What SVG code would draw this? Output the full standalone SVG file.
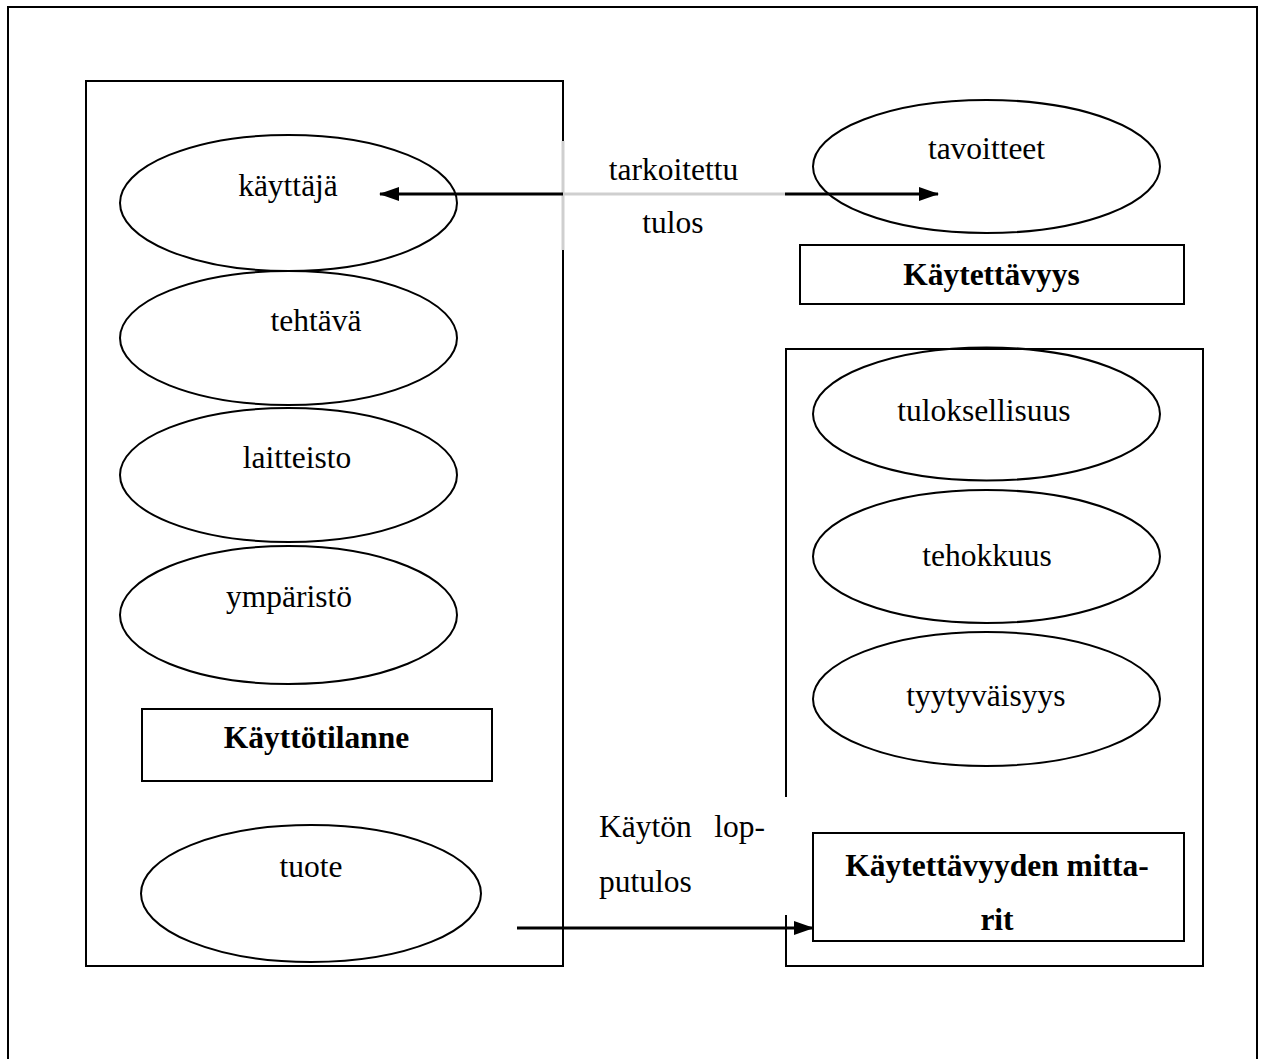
<svg xmlns="http://www.w3.org/2000/svg" width="1264" height="1059" viewBox="0 0 1264 1059">
<defs>
<style>
.frame{fill:none;stroke:#000;stroke-width:2}
.box{fill:#fff;stroke:#000;stroke-width:2}
.ell{fill:none;stroke:#000;stroke-width:2}
text{font-family:'Liberation Serif','Times New Roman',Times,'DejaVu Serif',serif;font-size:31.5px;fill:#000;text-anchor:middle}
.b{font-weight:bold}
.ln{stroke:#000;stroke-width:3;fill:none}
.gr{stroke:#cfcfcf;stroke-width:3;fill:none}
</style>
<marker id="ah" markerWidth="20" markerHeight="16" refX="19" refY="8" orient="auto" markerUnits="userSpaceOnUse">
<path d="M0,1 L20,8 L0,15 Z" fill="#000"/>
</marker>
</defs>
<rect width="1264" height="1059" fill="#fff"/>
<rect id="frame" class="frame" x="8" y="7" width="1249" height="1100"/>

<g id="kayttotilanne-container">
<path class="frame" d="M563,141 L563,81 L86,81 L86,966 L563,966 L563,250"/>
</g>
<g id="mittarit-container">
<path class="frame" d="M786,797 L786,349 L1203,349 L1203,966 L786,966 L786,915"/>
</g>

<g id="kayttaja"><ellipse class="ell" cx="288.5" cy="203" rx="168.5" ry="68"/><text font-family="Liberation Serif, serif" x="288" y="196">käyttäjä</text></g>
<g id="tehtava"><ellipse class="ell" cx="288.5" cy="338" rx="168.5" ry="67"/><text font-family="Liberation Serif, serif" x="316" y="331">tehtävä</text></g>
<g id="laitteisto"><ellipse class="ell" cx="288.5" cy="475" rx="168.5" ry="67"/><text font-family="Liberation Serif, serif" x="297" y="468">laitteisto</text></g>
<g id="ymparisto"><ellipse class="ell" cx="288.5" cy="615" rx="168.5" ry="69"/><text font-family="Liberation Serif, serif" x="289" y="607">ympäristö</text></g>
<g id="kayttotilanne"><rect class="box" x="142" y="709" width="350" height="72"/><text class="b" font-family="Liberation Serif, serif" x="316.5" y="748">Käyttötilanne</text></g>
<g id="tuote"><ellipse class="ell" cx="311" cy="893.5" rx="170" ry="68.5"/><text font-family="Liberation Serif, serif" x="311" y="877">tuote</text></g>

<g id="tavoitteet"><ellipse class="ell" cx="986.5" cy="166.5" rx="173.5" ry="66.5"/><text font-family="Liberation Serif, serif" x="986.5" y="159">tavoitteet</text></g>
<g id="kaytettavyys"><rect class="box" x="800" y="245" width="384" height="59"/><text class="b" font-family="Liberation Serif, serif" x="991.5" y="285">Käytettävyys</text></g>
<g id="tuloksellisuus"><ellipse class="ell" cx="986.5" cy="414" rx="173.5" ry="66.5"/><text font-family="Liberation Serif, serif" x="984" y="421">tuloksellisuus</text></g>
<g id="tehokkuus"><ellipse class="ell" cx="986.5" cy="556.5" rx="173.5" ry="66.5"/><text font-family="Liberation Serif, serif" x="987" y="566">tehokkuus</text></g>
<g id="tyytyvaisyys"><ellipse class="ell" cx="986.5" cy="699" rx="173.5" ry="67"/><text font-family="Liberation Serif, serif" x="986" y="706">tyytyväisyys</text></g>
<g id="mittarit"><rect class="box" x="813" y="833" width="371" height="108"/><text class="b" font-family="Liberation Serif, serif" x="997" y="876">Käytettävyyden mitta-</text><text class="b" font-family="Liberation Serif, serif" x="997" y="930">rit</text></g>

<g id="connectors">
<line class="gr" x1="563" y1="141" x2="563" y2="250"/>
<line class="ln" x1="563" y1="194" x2="380" y2="194" marker-end="url(#ah)"/>
<line class="gr" x1="564" y1="194" x2="785" y2="194"/>
<line class="ln" x1="785" y1="194" x2="938" y2="194" marker-end="url(#ah)"/>
<line class="ln" x1="517" y1="928" x2="813" y2="928" marker-end="url(#ah)"/>
<text font-family="Liberation Serif, serif" x="673.5" y="180">tarkoitettu</text>
<text font-family="Liberation Serif, serif" x="673" y="233">tulos</text>
<text font-family="Liberation Serif, serif" x="599" y="837" text-anchor="start" style="text-anchor:start">Käytön</text>
<text font-family="Liberation Serif, serif" x="765" y="837" style="text-anchor:end">lop-</text>
<text font-family="Liberation Serif, serif" x="599" y="892" style="text-anchor:start">putulos</text>
</g>
</svg>
